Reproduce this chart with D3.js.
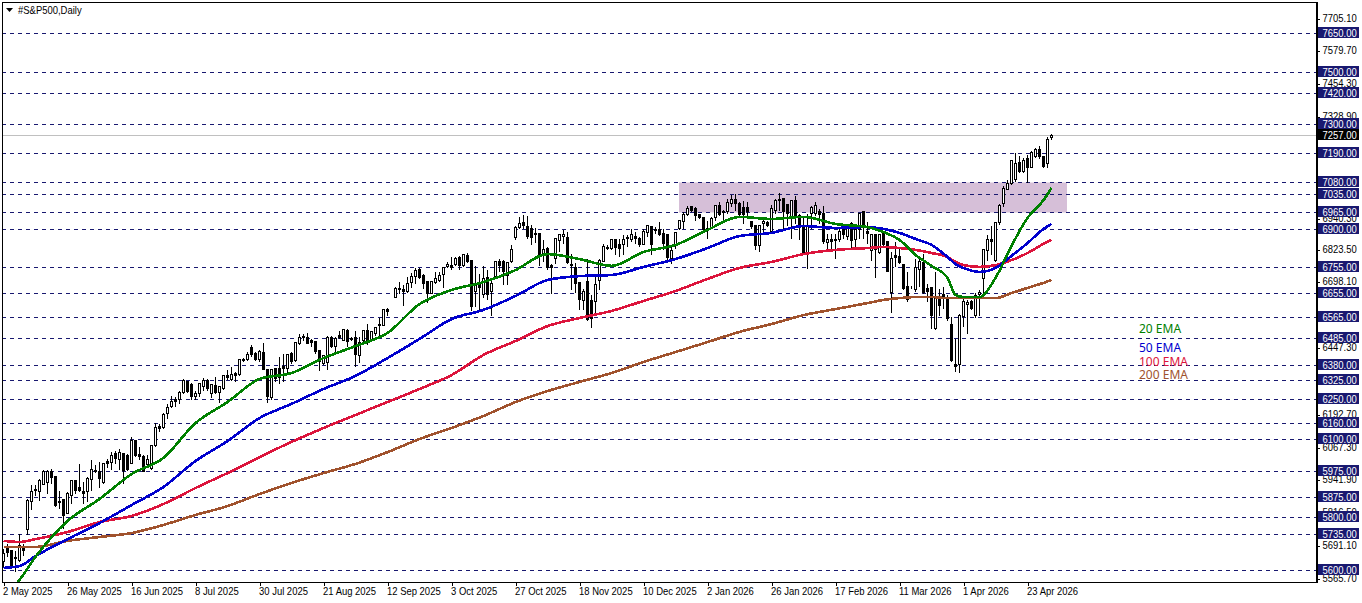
<!DOCTYPE html>
<html>
<head>
<meta charset="utf-8">
<title>#S&amp;P500,Daily</title>
<script src="https://cdn.jsdelivr.net/npm/d3@7/dist/d3.min.js"></script>
<style>
  html, body { margin: 0; padding: 0; background: #fff; overflow: hidden; }
  svg { display: block; font-family: "Liberation Sans", sans-serif; }
  .axis path, .axis line { stroke: #000; shape-rendering: crispEdges; }
  .axis text { fill: #000; font-size: 11px; }
</style>
</head>
<body>
<svg id="chart" width="1362" height="603"></svg>
<script>
// daily candles
var opens = [
  5632,5689,5674,5648,5638,5683,5753,5861,5908,5899,
  5928,5933,5975,5956,5863,5870,5816,5886,5940,5915,
  5899,5899,5946,5979,5975,5933,6013,6010,6043,6020,
  6043,6039,6007,6094,6040,6035,6001,5988,6076,6147,
  6145,6196,6224,6249,6249,6277,6319,6310,6264,6272,
  6302,6325,6272,6306,6277,6294,6342,6328,6351,6348,
  6404,6402,6450,6425,6402,6432,6366,6259,6370,6370,
  6376,6370,6427,6399,6463,6491,6488,6476,6472,6437,
  6389,6392,6488,6455,6495,6478,6516,6484,6486,6417,
  6478,6516,6481,6503,6538,6535,6593,6645,6641,6675,
  6671,6665,6699,6720,6748,6726,6701,6656,6697,6707,
  6727,6758,6761,6768,6792,6764,6802,6781,6665,6692,
  6650,6716,6663,6720,6777,6777,6726,6777,6870,6907,
  6927,6911,6902,6886,6883,6805,6828,6761,6790,6857,
  6872,6870,6767,6755,6698,6627,6703,6627,6624,6707,
  6777,6833,6828,6862,6841,6841,6869,6861,6873,6866,
  6843,6889,6911,6897,6898,6883,6879,6790,6841,6902,
  6930,6958,6986,6981,6958,6946,6904,6904,6945,6993,
  6970,6968,7000,7014,6999,6984,6984,6932,6917,6838,
  6923,6927,6891,6974,7014,7019,6996,6940,7009,6953,
  6914,6809,6961,6961,6968,6961,6851,6860,6863,6860,
  6898,6872,6921,6860,6898,6968,6894,6818,6881,6813,
  6885,6853,6660,6799,6796,6767,6682,6680,6669,6748,
  6773,6673,6678,6523,6631,6652,6637,6539,6383,6386,
  6567,6612,6624,6573,6652,6713,6819,6860,6780,6927,
  7001,7054,7077,7089,7154,7123,7169,7138,7180,7207,
  7177,7150,7250
];
var highs = [
  5683,5702,5676,5676,5740,5702,5873,5927,5927,5950,
  5984,5984,5988,5959,5905,5874,5899,5946,5946,6007,
  5937,5956,6020,6001,6013,6010,6026,6052,6058,6064,
  6043,6043,6109,6096,6073,6040,6040,6077,6162,6160,
  6201,6236,6268,6264,6285,6332,6322,6315,6287,6315,
  6336,6332,6313,6338,6306,6347,6364,6376,6357,6408,
  6412,6434,6459,6434,6440,6470,6370,6367,6374,6414,
  6427,6427,6434,6472,6504,6504,6506,6484,6476,6440,
  6421,6497,6497,6491,6516,6523,6523,6493,6516,6493,
  6518,6542,6516,6529,6565,6595,6603,6645,6684,6700,
  6688,6722,6735,6755,6755,6730,6705,6705,6739,6739,
  6758,6777,6796,6796,6799,6809,6811,6783,6764,6733,
  6764,6748,6707,6781,6790,6786,6777,6841,6915,6949,
  6958,6955,6920,6907,6885,6860,6834,6771,6869,6881,
  6900,6892,6809,6775,6703,6675,6790,6650,6726,6790,
  6847,6841,6866,6866,6866,6879,6881,6904,6892,6873,
  6902,6920,6915,6910,6930,6904,6885,6838,6892,6936,
  6968,6991,6993,6987,6961,6949,6936,6949,6993,7006,
  6978,7019,7032,7038,7006,7012,7006,6936,6919,6917,
  6949,6936,6997,7019,7042,7021,7000,7016,7029,6962,
  6949,6961,6993,7006,6981,6993,6885,6885,6885,6911,
  6911,6911,6930,6904,6962,6968,6930,6885,6885,6885,
  6885,6853,6815,6853,6828,6767,6739,6687,6790,6796,
  6809,6694,6682,6739,6675,6682,6650,6567,6482,6580,
  6637,6631,6631,6660,6669,6828,6879,6917,6930,7000,
  7066,7089,7165,7192,7184,7173,7188,7203,7211,7222,
  7180,7253,7268
];
var lows = [
  5613,5651,5613,5594,5632,5657,5736,5832,5886,5865,
  5928,5893,5931,5844,5835,5759,5814,5854,5893,5899,
  5854,5861,5905,5971,5915,5931,5992,5982,6007,5982,
  5931,5979,6005,6035,6020,5975,5995,5982,6073,6128,
  6141,6179,6221,6226,6236,6272,6277,6249,6252,6262,
  6285,6287,6259,6272,6239,6290,6328,6323,6319,6344,
  6395,6399,6414,6399,6395,6364,6239,6252,6319,6313,
  6319,6351,6389,6395,6459,6478,6463,6455,6427,6361,
  6383,6366,6450,6427,6484,6476,6453,6478,6375,6394,
  6459,6459,6472,6497,6491,6533,6572,6645,6641,6656,
  6608,6659,6679,6692,6713,6675,6621,6654,6692,6701,
  6678,6755,6748,6764,6748,6758,6773,6589,6605,6586,
  6641,6631,6570,6713,6739,6688,6688,6775,6860,6902,
  6904,6866,6841,6851,6764,6777,6749,6656,6771,6815,
  6847,6771,6669,6660,6593,6593,6554,6525,6574,6669,
  6777,6822,6822,6803,6796,6805,6834,6853,6847,6834,
  6841,6872,6803,6885,6876,6822,6783,6771,6828,6898,
  6904,6955,6968,6936,6942,6898,6866,6904,6936,6955,
  6936,6961,6987,6974,6949,6923,6955,6904,6822,6815,
  6892,6911,6885,6961,6974,6904,6917,6866,6923,6860,
  6809,6752,6904,6955,6923,6847,6815,6815,6790,6853,
  6866,6860,6828,6828,6866,6866,6847,6783,6716,6809,
  6834,6739,6582,6758,6771,6669,6624,6675,6665,6682,
  6656,6624,6523,6520,6573,6599,6554,6395,6357,6353,
  6529,6503,6596,6563,6571,6660,6783,6803,6777,6920,
  6986,7051,7073,7085,7119,7119,7081,7136,7173,7169,
  7135,7135,7244
];
var closes = [
  5664,5666,5619,5643,5695,5676,5867,5899,5903,5940,
  5975,5975,5954,5848,5857,5807,5893,5943,5903,5905,
  5893,5950,5982,5975,5950,6007,6007,6039,6026,6048,
  5979,5982,6096,6039,6035,5977,6020,6077,6145,6140,
  6192,6221,6245,6244,6277,6325,6281,6264,6274,6313,
  6323,6294,6310,6277,6302,6344,6335,6348,6344,6404,
  6399,6423,6421,6404,6436,6366,6264,6364,6332,6336,
  6370,6423,6395,6468,6488,6488,6465,6468,6434,6395,
  6417,6488,6455,6484,6488,6520,6472,6480,6421,6470,
  6516,6478,6510,6526,6533,6593,6588,6645,6675,6671,
  6663,6694,6722,6745,6716,6694,6656,6702,6713,6726,
  6755,6767,6755,6790,6764,6805,6777,6605,6694,6678,
  6713,6650,6692,6777,6764,6739,6773,6825,6908,6923,
  6917,6873,6869,6881,6805,6822,6754,6755,6864,6879,
  6881,6775,6762,6694,6631,6663,6557,6561,6691,6780,
  6834,6828,6862,6831,6828,6862,6864,6881,6864,6843,
  6894,6917,6841,6901,6881,6847,6792,6819,6889,6936,
  6958,6981,6973,6953,6945,6898,6898,6942,6991,6958,
  6965,7003,7015,6998,6958,6958,6970,6911,6838,6914,
  6930,6917,6981,7009,7009,6968,6961,7009,6945,6917,
  6811,6917,6983,6991,6958,6853,6860,6853,6858,6892,
  6879,6908,6857,6898,6962,6917,6883,6881,6822,6879,
  6841,6739,6790,6792,6775,6673,6631,6680,6755,6777,
  6660,6665,6573,6635,6608,6635,6561,6398,6378,6573,
  6624,6622,6599,6647,6660,6822,6860,6853,6926,6993,
  7058,7077,7162,7150,7123,7165,7135,7192,7207,7177,
  7142,7245,7257
];

// moving averages, read at these bars only
var emaBars = [0,4,8,16,24,32,40,48,56,64,72,80,88,96,104,112,120,128,136,144,152,160,168,176,184,192,200,208,216,220,224,228,232,236,238,240,244,248,252,256,260,262];
var ema20 = [5493,5562,5650,5787,5871,5966,6028,6161,6241,6329,6352,6409,6455,6505,6615,6669,6699,6745,6806,6787,6761,6814,6841,6898,6948,6940,6948,6921,6909,6890,6860,6803,6761,6715,6650,6642,6642,6715,6837,6944,7012,7058];
var ema50 = [5608,5615,5653,5718,5779,5848,5917,6016,6092,6180,6234,6291,6341,6409,6482,6558,6593,6646,6707,6722,6726,6757,6787,6829,6875,6887,6913,6906,6909,6902,6887,6864,6841,6795,6768,6753,6738,6753,6799,6848,6902,6921];
var ema100 = [5711,5707,5718,5745,5783,5806,5852,5913,5970,6031,6089,6142,6192,6241,6291,6344,6421,6474,6531,6562,6589,6627,6665,6711,6753,6776,6806,6822,6829,6833,6829,6822,6810,6795,6776,6764,6757,6764,6783,6810,6845,6860];
var ema200 = [5688,5688,5688,5711,5726,5741,5772,5810,5844,5890,5932,5970,6005,6050,6100,6142,6188,6241,6283,6318,6352,6394,6432,6470,6509,6539,6573,6596,6619,6631,6638,6642,6642,6638,6638,6638,6638,6638,6657,6677,6696,6707];

var levels = [7650,7500,7420,7300,7190,7080,7035,6965,6900,6755,6655,6565,6485,6380,6325,6250,6160,6100,5975,5875,5800,5735,5600];
var axisPrices = [7705.1,7579.7,7454.3,7328.9,6940.3,6823.5,6698.1,6447.3,6192.7,6067.3,5941.9,5816.5,5691.1,5565.7];
var lastPrice = 7257;
var zoneTop = 7080, zoneBottom = 6965, zoneFirstBar = 169, zoneLastBar = 266;
var dateBars = [0,16,32,48,64,80,96,112,128,144,160,176,192,208,224,240,256];
var dateLabels = ['2 May 2025','26 May 2025','16 Jun 2025','8 Jul 2025','30 Jul 2025','21 Aug 2025','12 Sep 2025','3 Oct 2025','27 Oct 2025','18 Nov 2025','10 Dec 2025','2 Jan 2026','26 Jan 2026','17 Feb 2026','11 Mar 2026','1 Apr 2026','23 Apr 2026'];
var emaNames = ['20 EMA','50 EMA','100 EMA','200 EMA'];
var emaColors = ['#008000','#0000cd','#dc143c','#a0522d'];

var plotLeft = 2, plotTop = 2, plotRight = 1316, plotBottom = 582;

var svg = d3.select('#chart');
var x = d3.scaleLinear().domain([0, 262]).range([3.5, 1051.5]);
var y = d3.scaleLinear().domain([5600, 7650]).range([570, 33]);

// snap to the pixel grid so the 1px lines stay sharp
function py(v) { return Math.round(y(v) - 0.5) + 0.5; }

// the terminal's font is narrower than Liberation Sans
function squeeze(sel) {
    sel.each(function () {
        this.setAttribute('textLength', this.getComputedTextLength() * 0.86);
        this.setAttribute('lengthAdjust', 'spacingAndGlyphs');
    });
}

svg.append('defs').append('clipPath').attr('id', 'plot')
    .append('rect')
    .attr('x', plotLeft).attr('y', plotTop)
    .attr('width', plotRight - plotLeft).attr('height', plotBottom - plotTop);

var plot = svg.append('g').attr('clip-path', 'url(#plot)');

plot.append('rect')
    .attr('x', x(zoneFirstBar) - 0.5)
    .attr('width', x(zoneLastBar) - x(zoneFirstBar))
    .attr('y', py(zoneTop))
    .attr('height', py(zoneBottom) - py(zoneTop))
    .attr('fill', '#d6bfd8');

plot.selectAll('.level').data(levels).enter().append('line')
    .attr('class', 'level')
    .attr('x1', plotLeft).attr('x2', plotRight)
    .attr('y1', py).attr('y2', py)
    .attr('stroke', '#191970')
    .attr('stroke-dasharray', '4,4')
    .attr('shape-rendering', 'crispEdges');

plot.append('line')
    .attr('x1', plotLeft).attr('x2', plotRight)
    .attr('y1', py(lastPrice)).attr('y2', py(lastPrice))
    .attr('stroke', '#c0c0c0')
    .attr('shape-rendering', 'crispEdges');

var candles = plot.selectAll('.candle').data(d3.range(opens.length)).enter().append('g')
    .attr('class', 'candle')
    .attr('shape-rendering', 'crispEdges');

candles.append('line')
    .attr('x1', x).attr('x2', x)
    .attr('y1', function (i) { return py(highs[i]); })
    .attr('y2', function (i) { return py(lows[i]); })
    .attr('stroke', '#000');

candles.append('rect')
    .attr('x', function (i) { return x(i) - 1; })
    .attr('width', 2)
    .attr('y', function (i) { return py(Math.max(opens[i], closes[i])); })
    .attr('height', function (i) { return py(Math.min(opens[i], closes[i])) - py(Math.max(opens[i], closes[i])); })
    .attr('fill', function (i) { return closes[i] >= opens[i] ? '#fff' : '#000'; })
    .attr('stroke', '#000');

var emaLine = d3.line()
    .x(function (d, i) { return x(emaBars[i]); })
    .y(function (d) { return y(d); })
    .curve(d3.curveMonotoneX);

[ema200, ema100, ema50, ema20].forEach(function (values, i) {
    plot.append('path')
        .attr('d', emaLine(values))
        .attr('fill', 'none')
        .attr('stroke', emaColors[3 - i])
        .attr('stroke-width', 2.6)
        .attr('shape-rendering', 'crispEdges');
});

// frame
svg.append('rect')
    .attr('x', plotLeft + 0.5).attr('y', plotTop + 0.5)
    .attr('width', plotRight - plotLeft).attr('height', plotBottom - plotTop)
    .attr('fill', 'none').attr('stroke', '#000')
    .attr('shape-rendering', 'crispEdges');
svg.append('line')
    .attr('x1', plotRight + 1.5).attr('x2', plotRight + 1.5)
    .attr('y1', plotTop).attr('y2', plotBottom + 1)
    .attr('stroke', '#000')
    .attr('shape-rendering', 'crispEdges');

// price axis, boxes go on top of it
var yAxis = svg.append('g')
    .attr('class', 'axis')
    .attr('transform', 'translate(' + (plotRight + 1) + ',0)')
    .call(d3.axisRight(y).tickValues(axisPrices).tickFormat(d3.format('.2f')).tickSize(3).tickSizeOuter(0));
yAxis.select('.domain').remove();
yAxis.selectAll('text').attr('x', 5.5).attr('y', -1).call(squeeze);

var boxes = svg.selectAll('.price-box').data(levels.concat([lastPrice])).enter().append('g')
    .attr('class', 'price-box');

boxes.append('rect')
    .attr('x', 1318).attr('width', 41)
    .attr('y', function (d) { return py(d) - 6.5; })
    .attr('height', 11)
    .attr('fill', function (d) { return d === lastPrice ? '#000' : '#191970'; })
    .attr('shape-rendering', 'crispEdges');

boxes.append('text')
    .attr('x', 1322.5)
    .attr('y', function (d) { return py(d) + 3; })
    .attr('fill', '#fff')
    .attr('font-size', 11)
    .text(d3.format('.2f'))
    .call(squeeze);

// time axis
var xAxis = svg.append('g')
    .attr('class', 'axis')
    .attr('transform', 'translate(0,' + (plotBottom + 1) + ')')
    .call(d3.axisBottom(x).tickValues(dateBars)
        .tickFormat(function (d, i) { return dateLabels[i]; })
        .tickSize(3).tickSizeOuter(0));
xAxis.select('.domain').remove();
xAxis.selectAll('text')
    .attr('text-anchor', 'start')
    .attr('x', -1)
    .attr('y', 4)
    .attr('dy', '0.71em')
    .call(squeeze);

// title
svg.append('path')
    .attr('d', d3.line()([[6, 8], [13, 8], [9.5, 12]]) + 'Z')
    .attr('fill', '#000');
svg.append('text')
    .attr('x', 18).attr('y', 14)
    .attr('font-size', 11)
    .attr('fill', '#000')
    .text('#S&P500,Daily')
    .call(squeeze);

// hand-placed legend
svg.selectAll('.ema-name').data(emaNames).enter().append('text')
    .attr('class', 'ema-name')
    .attr('x', 1139)
    .attr('y', function (d) { return { '20 EMA': 333, '50 EMA': 352, '100 EMA': 366, '200 EMA': 379 }[d]; })
    .attr('fill', function (d, i) { return emaColors[i]; })
    .style('font-family', '"Noto Sans", sans-serif')
    .attr('font-size', 12)
    .text(function (d) { return d; });
</script>
</body>
</html>
